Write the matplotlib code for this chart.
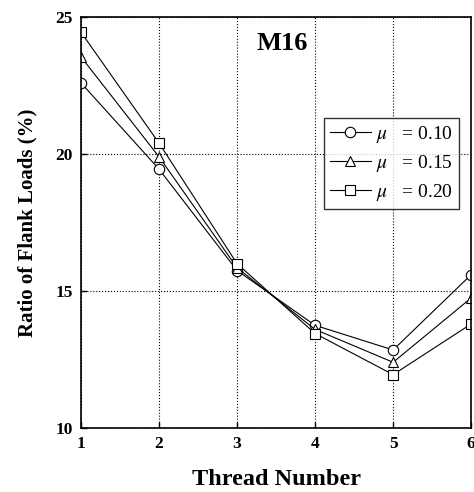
import matplotlib
matplotlib.use("Agg")
import matplotlib.pyplot as plt

plt.rcParams["font.family"] = ["Liberation Serif", "DejaVu Serif"]
plt.rcParams["mathtext.fontset"] = "stix"

# Thread number vs. ratio of flank loads (%), M16 thread
threads = [1, 2, 3, 4, 5, 6]
mu_010 = [22.6, 19.45, 15.75, 13.75, 12.85, 15.6]
mu_015 = [23.55, 19.9, 15.85, 13.6, 12.4, 14.75]
mu_020 = [24.45, 20.4, 16.0, 13.45, 11.95, 13.8]

series = [
    (mu_010, "o", r"$\mu$   = 0.10"),
    (mu_015, "^", r"$\mu$   = 0.15"),
    (mu_020, "s", r"$\mu$   = 0.20"),
]

fig = plt.figure(figsize=(4.74, 4.92), dpi=100)
ax = fig.add_axes([0.171, 0.130, 0.823, 0.835])

for vals, mk, lab in series:
    ax.plot(threads, vals, color="black", linewidth=0.8, marker=mk,
            markersize=7.5, markerfacecolor="white", markeredgecolor="black",
            markeredgewidth=0.8, label=lab)

ax.set_xlim(1, 6)
ax.set_ylim(10, 25)
ax.set_xticks(threads)
ax.set_yticks([10, 15, 20, 25])
ax.tick_params(direction="in", length=4, width=1, labelsize=12.5, pad=6)
for t in ax.get_xticklabels() + ax.get_yticklabels():
    t.set_fontweight("bold")
ax.grid(True, color="black", linestyle=":", linewidth=0.8)
for sp in ax.spines.values():
    sp.set_linewidth(1.2)

ax.set_xlabel("Thread Number", fontsize=17.5, fontweight="bold", labelpad=12)
ax.set_ylabel("Ratio of Flank Loads (%)", fontsize=15, fontweight="bold",
              labelpad=13)

ax.text(0.515, 0.937, "M16", transform=ax.transAxes, fontsize=19,
        fontweight="bold", ha="center", va="center")

leg = ax.legend(loc="upper right", bbox_to_anchor=(0.969, 0.754), fontsize=14,
                frameon=True, fancybox=False, edgecolor="black",
                handlelength=2.1, borderpad=0.3, labelspacing=0.4,
                handletextpad=0.3, borderaxespad=0)
leg.get_frame().set_linewidth(1.0)

fig.savefig("out.png", dpi=100)
